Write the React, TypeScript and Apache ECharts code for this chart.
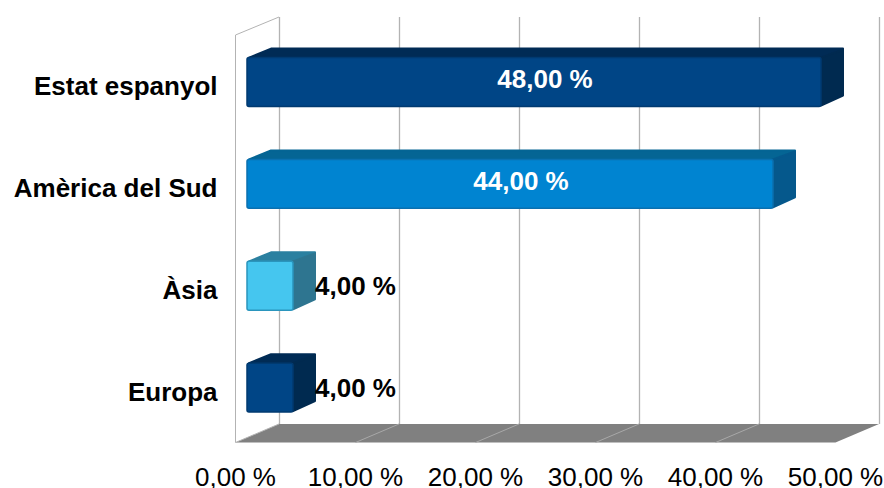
import React, { useEffect, useRef } from "react";
import * as echarts from "echarts";

const categories = ["Estat espanyol", "Amèrica del Sud", "Àsia", "Europa"];
const values = [48, 44, 4, 4];
const faceColors = ["#004586", "#0084d1", "#45c6ef", "#004586"];
const topColors = ["#002b55", "#056594", "#2b80a0", "#002b55"];
const sideColors = ["#002a50", "#05588c", "#2e7590", "#002a50"];
const edgeColors = ["#003a70", "#0a70b0", "#2a95bd", "#003a70"];
const xTicks = [0, 10, 20, 30, 40, 50];

const fmt = (v: number) => v.toFixed(2).replace(".", ",") + " %";

const W = 884, H = 488;
const FRONT = { l: 235.5, r: 835.5, t: 35, b: 442.5 };
const BACK = { l: 279, r: 879, t: 17, b: 424 };
const DX = 23, DY = 10;

const renderBar = (params: any, api: any) => {
  const i = params.dataIndex;
  const v = api.value(0);
  const zero = api.coord([0, i]);
  const end = api.coord([v, i]);
  const band = api.size([0, 1])[1];
  const h = band * 0.48;
  const x0 = zero[0] + 11.5;
  const x1 = end[0] + 9.5;
  const yc = zero[1] - 3.9;
  const y0 = yc - h / 2;
  const y1 = yc + h / 2;
  const inside = v > 10;
  return {
    type: "group",
    children: [
      {
        type: "polygon",
        shape: { points: [[x0 + 2, y0], [x0 + DX + 1, y0 - DY + 1], [x1 + DX - 1, y0 - DY + 1], [x1 + DX - 1, y0 - DY + 2], [x1, y0]] },
        style: { fill: topColors[i], stroke: topColors[i], lineJoin: "round", lineWidth: 2 },
      },
      {
        type: "polygon",
        shape: { points: [[x1, y0], [x1 + DX - 1, y0 - DY + 2], [x1 + DX - 1, y1 - DY - 1], [x1, y1 - 1]] },
        style: { fill: sideColors[i], stroke: sideColors[i], lineJoin: "round", lineWidth: 2 },
      },
      {
        type: "rect",
        shape: { x: x0, y: y0, width: x1 - x0, height: y1 - y0, r: 2 },
        style: { fill: faceColors[i], stroke: edgeColors[i], lineWidth: 1.5 },
      },
      {
        type: "text",
        style: {
          x: inside ? (x0 + x1 + DX) / 2 - 0.5 : x1 + DX - 1,
          y: inside ? yc - 3 : yc,
          text: fmt(v),
          fill: inside ? "#ffffff" : "#000000",
          font: 'bold 26px "Liberation Sans"',
          align: inside ? "center" : "left",
          verticalAlign: "middle",
        },
      },
    ],
  };
};

const floorDiagonals = xTicks.slice(1, -1).map((t) => ({
  type: "line",
  silent: true,
  z: 1,
  shape: {
    x1: BACK.l + (t / 50) * (BACK.r - BACK.l),
    y1: BACK.b,
    x2: FRONT.l + (t / 50) * (FRONT.r - FRONT.l),
    y2: FRONT.b,
  },
  style: { stroke: "#a8a8a8", lineWidth: 1 },
}));

export default function App() {
  const ref = useRef<HTMLDivElement>(null);
  useEffect(() => {
    const chart = echarts.init(ref.current!, undefined, { renderer: "svg" });
    chart.setOption({
      animation: false,
      backgroundColor: "#ffffff",
      textStyle: { fontFamily: "Liberation Sans" },
      grid: [
        { left: FRONT.l, width: FRONT.r - FRONT.l, top: FRONT.t, height: FRONT.b - FRONT.t, outerBoundsMode: "none" },
        { left: BACK.l, width: BACK.r - BACK.l, top: BACK.t, height: BACK.b - BACK.t, outerBoundsMode: "none" },
      ],
      xAxis: [
        {
          gridIndex: 0,
          type: "value",
          min: 0,
          max: 50,
          interval: 10,
          axisLine: { show: false },
          axisTick: { show: false },
          splitLine: { show: false },
          axisLabel: {
            formatter: (v: number) => fmt(v),
            fontFamily: "Liberation Sans",
            fontSize: 26,
            color: "#000000",
            margin: 21,
            hideOverlap: false,
            showMinLabel: true,
            showMaxLabel: true,
          },
        },
        {
          gridIndex: 1,
          type: "value",
          min: 0,
          max: 50,
          interval: 10,
          axisLine: { show: false },
          axisTick: { show: false },
          axisLabel: { show: false },
          splitLine: { show: true, lineStyle: { color: "#b3b3b3", width: 1.3 } },
        },
      ],
      yAxis: [
        {
          gridIndex: 0,
          type: "category",
          inverse: true,
          data: categories,
          axisLine: { show: false },
          axisTick: { show: false },
          axisLabel: {
            fontFamily: "Liberation Sans",
            fontSize: 26,
            fontWeight: "bold",
            color: "#000000",
            margin: 18,
            interval: 0,
            padding: [3, 0, 0, 0],
          },
        },
        {
          gridIndex: 1,
          type: "category",
          inverse: true,
          data: categories,
          axisLine: { show: false },
          axisTick: { show: false },
          axisLabel: { show: false },
        },
      ],
      graphic: [
        {
          type: "polygon",
          silent: true,
          z: 0,
          shape: { points: [[FRONT.l, FRONT.b], [BACK.l, BACK.b], [BACK.r, BACK.b], [FRONT.r, FRONT.b]] },
          style: { fill: "#808080" },
        },
        {
          type: "polyline",
          silent: true,
          z: 0,
          shape: { points: [[FRONT.l, FRONT.b], [FRONT.l, FRONT.t], [BACK.l, BACK.t]] },
          style: { stroke: "#b3b3b3", fill: "none", lineWidth: 1 },
        },
        {
          type: "line",
          silent: true,
          z: 0,
          shape: { x1: FRONT.l, y1: FRONT.b, x2: BACK.l, y2: BACK.b },
          style: { stroke: "#b3b3b3", lineWidth: 1 },
        },
        ...floorDiagonals,
      ],
      series: [
        {
          type: "custom",
          xAxisIndex: 0,
          yAxisIndex: 0,
          z: 5,
          clip: false,
          renderItem: renderBar,
          data: values.map((v) => [v]),
          encode: { x: 0 },
        },
      ],
    });
    return () => chart.dispose();
  }, []);
  return <div ref={ref} style={{ width: W, height: H, position: "absolute", left: 0, top: 0 }} />;
}
